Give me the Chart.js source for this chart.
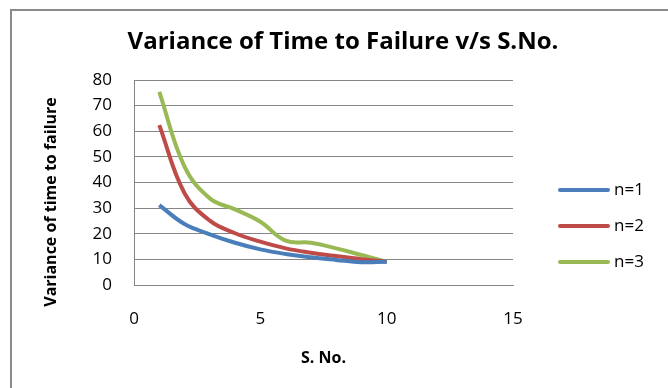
<!DOCTYPE html>
<html>
<head>
<meta charset="utf-8">
<script src="https://cdn.jsdelivr.net/npm/chart.js@4.4.1/dist/chart.umd.min.js"></script>
<style>
  html, body { margin: 0; padding: 0; background: #fff; }
  #wrap { width: 668px; height: 388px; position: relative; }
</style>
</head>
<body>
<div id="wrap"><canvas id="varChart" width="668" height="388"></canvas></div>
<script>
/* ---------------- DATA ---------------- */
const sNo = [1, 2, 3, 4, 5, 6, 7, 8, 9, 10];

const n1Values = [31.2, 23.8, 19.8, 16.5, 13.9, 12.1, 10.8, 9.8, 8.9, 9.1];
const n2Values = [62.4, 35.8, 25.1, 20.2, 16.9, 14.3, 12.6, 11.3, 10.1, 9.1];
const n3Values = [75.4, 46.2, 33.8, 29.5, 24.7, 17.3, 16.5, 14.3, 11.7, 9.1];

const seriesNames = ["n=1", "n=2", "n=3"];
const seriesColors = ["#4a7ebb", "#be4b48", "#98b954"];

const xTicks = [0, 5, 10, 15];
const yTicks = [0, 10, 20, 30, 40, 50, 60, 70, 80];

const chartTitle = "Variance of Time to Failure v/s S.No.";
const xTitle = "S. No.";
const yTitle = "Variance of time to failure";

/* ---------------- HELPERS ---------------- */
function toPoints(values) {
    return sNo.map((x, i) => ({ x: x, y: values[i] }));
}

const gridColor = "#868686";

/* frame, titles and legend drawn on the canvas */
const decorPlugin = {
    id: "decor",
    beforeDraw(chart) {
        const c = chart.ctx;
        c.save();
        c.fillStyle = "#fff";
        c.fillRect(0, 0, chart.width, chart.height);
        c.strokeStyle = "#8a8a8a";
        c.lineWidth = 2;
        c.strokeRect(11, 10, 720, 420);
        c.restore();
    },
    afterDraw(chart) {
        const c = chart.ctx;
        c.save();
        c.fillStyle = "#000";
        c.textBaseline = "middle";

        // chart title
        c.font = "bold 24px 'Open Sans'";
        c.textAlign = "center";
        c.fillText(chartTitle, 343, 42);

        // x axis title
        c.font = "bold 16px 'Open Sans'";
        c.fillText(xTitle, (chart.chartArea.left + chart.chartArea.right) / 2, 358);

        // y axis title
        c.save();
        c.translate(51, 202);
        c.rotate(-Math.PI / 2);
        c.font = "bold 16px 'Open Sans'";
        c.fillText(yTitle, 0, 0);
        c.restore();

        // legend
        c.font = "17px 'Open Sans'";
        c.textAlign = "left";
        chart.data.datasets.forEach((ds, i) => {
            const y = 190 + i * 36;
            c.strokeStyle = ds.borderColor;
            c.lineWidth = 4;
            c.lineCap = "round";
            c.beginPath();
            c.moveTo(560, y);
            c.lineTo(608, y);
            c.stroke();
            c.fillText(ds.label, 614, y);
        });
        c.restore();
    }
};

/* ---------------- CHART ---------------- */
const ctx = document.getElementById("varChart");

const varChart = new Chart(ctx, {

    type: "line",

    data: {
        datasets: [
            { label: seriesNames[0], data: toPoints(n1Values), borderColor: seriesColors[0] },
            { label: seriesNames[1], data: toPoints(n2Values), borderColor: seriesColors[1] },
            { label: seriesNames[2], data: toPoints(n3Values), borderColor: seriesColors[2] }
        ]
    },

    options: {
        responsive: false,
        animation: false,
        layout: {
            padding: { top: 80, left: 0, right: 155, bottom: 0 }
        },
        elements: {
            line: { borderWidth: 4, tension: 0.4, fill: false },
            point: { radius: 0, hoverRadius: 0 }
        },
        plugins: {
            legend: { display: false },
            title: { display: false },
            tooltip: { enabled: false }
        },
        scales: {
            x: {
                type: "linear",
                min: 0,
                max: 15,
                afterBuildTicks: (s) => { s.ticks = xTicks.map(v => ({ value: v })); },
                afterFit: (s) => { s.height = 103; },
                grid: { display: false, drawTicks: false },
                border: { display: true, color: gridColor, width: 1 },
                ticks: {
                    padding: 24,
                    color: "#000",
                    font: { family: "Open Sans", size: 17 }
                }
            },
            y: {
                min: 0,
                max: 80,
                afterBuildTicks: (s) => { s.ticks = yTicks.map(v => ({ value: v })); },
                afterFit: (s) => { s.width = 134; },
                grid: { color: gridColor, lineWidth: 1, drawTicks: false },
                border: { display: true, color: gridColor, width: 1 },
                ticks: {
                    padding: 22,
                    color: "#000",
                    font: { family: "Open Sans", size: 17 }
                }
            }
        }
    },

    plugins: [decorPlugin]
});
</script>
</body>
</html>
